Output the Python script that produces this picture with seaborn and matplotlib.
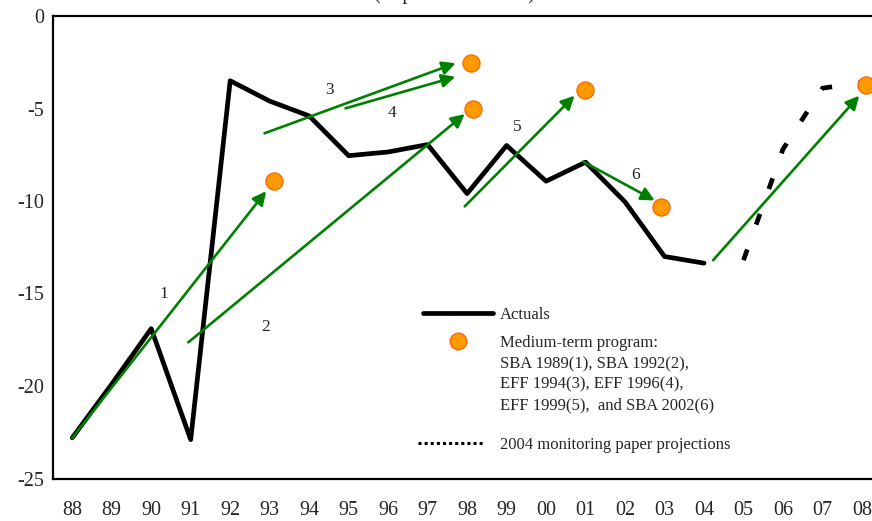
import numpy as np
import pandas as pd
import matplotlib
matplotlib.use("Agg")
import matplotlib.pyplot as plt
import seaborn as sns
from matplotlib.lines import Line2D

# --- data (percent of GDP) ---
years = list(range(1988, 2009))
tick_labels = [f"{y % 100:02d}" for y in years]

actual_years = list(range(1988, 2005))
actuals = [-22.8, -19.9, -16.9, -22.9, -3.5, -4.6, -5.4, -7.55, -7.35, -6.95,
           -9.6, -7.0, -8.93, -7.9, -10.05, -13.0, -13.36]

proj_years = [2005, 2006, 2007, 2008]
projections = [-13.2, -7.2, -3.9, -3.6]

# medium-term program targets
target_years = [1993.1, 1998.09, 1998.14, 2000.98, 2002.9, 2008.1]
targets = [-8.94, -2.53, -5.01, -4.0, -10.35, -3.72]

# program arrows: start -> end
arrow_x0 = [1988.0, 1990.94, 1992.87, 1994.92, 1997.94, 2000.94, 2004.23]
arrow_y0 = [-22.8, -17.64, -6.34, -4.99, -10.29, -7.87, -13.2]
arrow_x1 = [1992.91, 1997.94, 1997.71, 1997.70, 2000.72, 2002.75, 2007.93]
arrow_y1 = [-9.47, -5.3, -2.55, -3.29, -4.31, -9.97, -4.31]

# program number labels
label_text = ["1", "2", "3", "4", "5", "6"]
label_x = [1990.31, 1992.89, 1994.51, 1996.1, 1999.26, 2002.27]
label_y = [-15.0, -16.8, -4.0, -5.26, -5.98, -8.62]

sns.set_style("white")
plt.rcParams["font.family"] = ["Liberation Serif", "DejaVu Serif"]

fig = plt.figure(figsize=(8.72, 5.21), dpi=100)
ax = fig.add_axes([52.5 / 872, (521 - 478.5) / 521, 829.2 / 872, 462.5 / 521])

green = "#008000"

for x0, y0, x1, y1 in zip(arrow_x0, arrow_y0, arrow_x1, arrow_y1):
    ax.annotate("", xy=(x1, y1), xytext=(x0, y0),
                arrowprops=dict(arrowstyle="-|>", color=green, lw=1.9,
                                mutation_scale=20, shrinkA=0, shrinkB=0),
                zorder=3)

sns.lineplot(x=actual_years, y=actuals, color="black", lw=3.4, ax=ax, zorder=2)
sns.lineplot(x=proj_years, y=projections, color="black", lw=3.4,
             linestyle=(0, (2.4, 5.6)), dash_capstyle="butt", ax=ax, zorder=2)
sns.scatterplot(x=target_years, y=targets, s=150, color="#FF9900",
                edgecolor="#FF6A00", linewidth=1.0, ax=ax, zorder=5, clip_on=False)

for t, x, y in zip(label_text, label_x, label_y):
    ax.text(x, y, t, ha="center", va="center", fontsize=12.5)

ax.set_xlim(1987.5, 2008.5)
ax.set_ylim(-25, 0)
ax.set_xticks(years)
ax.set_xticklabels(tick_labels)
ax.set_yticks([0, -5, -10, -15, -20, -25])
ax.set_yticklabels(["0", "-5", "-10", "-15", "-20", "-25"])
ax.tick_params(axis="x", length=0, pad=16, labelsize=14.5)
ax.tick_params(axis="y", length=4.5, width=1.2, color="#808080", pad=1.5, labelsize=14.5)
ax.set_xlabel("")
ax.set_ylabel("")
for side in ["left", "top", "bottom"]:
    ax.spines[side].set_color("black")
    ax.spines[side].set_linewidth(1.6)
ax.spines["right"].set_visible(False)

# legend
h_act = Line2D([], [], color="black", lw=3.4)
h_prog = Line2D([], [], color="#FF9900", marker="o", markersize=12,
                markeredgecolor="#FF6A00", linestyle="none")
leg1 = ax.legend([h_act, h_prog], ["Actuals", "Medium-term program:"],
                 loc="upper left", bbox_to_anchor=(0.4468, 0.371),
                 frameon=False, fontsize=12, handlelength=4.2,
                 handletextpad=0.4, labelspacing=0.74, borderpad=0, borderaxespad=0)
ax.add_artist(leg1)
ax.text(0.5397, 0.2642,
        "SBA 1989(1), SBA 1992(2),\nEFF 1994(3), EFF 1996(4),\nEFF 1999(5),  and SBA 2002(6)",
        transform=ax.transAxes, ha="left", va="top", fontsize=12, linespacing=1.37)
h_proj = Line2D([], [], color="black", lw=2.2, linestyle=(0, (1, 1)), dash_capstyle="butt")
ax.legend([h_proj], ["2004 monitoring paper projections"],
          loc="upper left", bbox_to_anchor=(0.4408, 0.0898),
          frameon=False, fontsize=12, handlelength=4.0,
          handletextpad=0.9, borderpad=0, borderaxespad=0)

fig.text(454 / 872, 1 + 1 / 521, "(In percent of GDP)", ha="center",
         va="baseline", fontsize=14.5)

fig.savefig("out.png", dpi=100)
plt.close(fig)
